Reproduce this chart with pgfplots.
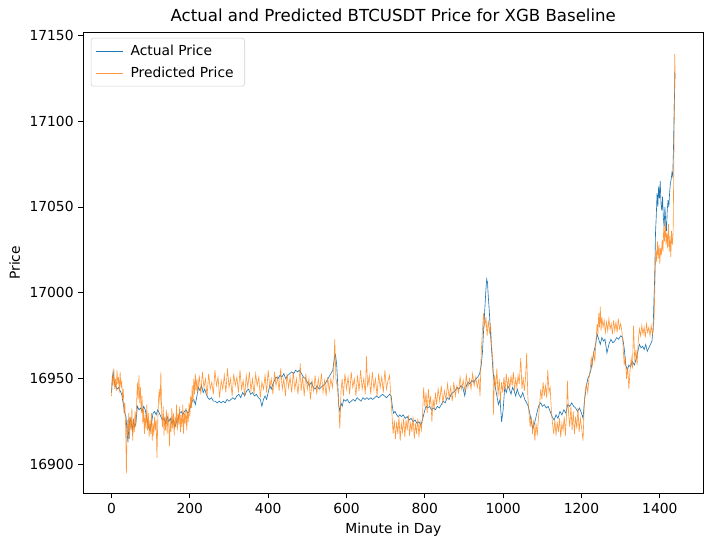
\documentclass[border=0pt]{standalone}
\usepackage{pgfplots}
\pgfplotsset{compat=1.18}
\usepackage{fontspec}
\setmainfont{DejaVu Sans}
\definecolor{mplblue}{HTML}{1F77B4}
\definecolor{mplorange}{HTML}{FF7F0E}
\begin{document}
\begin{tikzpicture}
\begin{axis}[
  scale only axis,
  width=446.4bp, height=332bp,
  xmin=-72, xmax=1511,
  ymin=16883.3, ymax=17151.6,
  xtick={0,200,400,600,800,1000,1200,1400},
  ytick={16900,16950,17000,17050,17100,17150},
  scaled ticks=false,
  /pgf/number format/.cd, 1000 sep={}, fixed, assume math mode=true,
  /pgfplots/.cd,
  tick align=outside, tick pos=left,
  major tick length=3.5bp,
  every tick/.style={black, line width=0.6pt},
  axis line style={line width=0.6pt},
  ticklabel style={font=\fontsize{10}{12}\selectfont},
  xlabel={Minute in Day}, ylabel={Price},
  label style={font=\fontsize{10}{12}\selectfont},
  title={Actual and Predicted BTCUSDT Price for XGB Baseline},
  title style={font=\fontsize{12}{14}\selectfont, yshift=-2bp},
  legend style={at={(0.012,0.988)}, anchor=north west, draw=black!18, rounded corners=2pt,
    fill=white, font=\fontsize{10}{12}\selectfont, inner xsep=3bp, inner ysep=3bp, row sep=2.5bp,
    nodes={inner xsep=5bp}},
  legend cell align=left,
  legend image code/.code={\draw[#1] (0bp,0bp) -- (20bp,0bp);},
]
\addplot[mplblue, line width=0.45pt] coordinates {
(0,16942)(2,16950)(4,16954)(7,16948)(10,16946)(14,16944)(18,16945)(22,16943)(26,16941)(28,16938)
(31,16934)(34,16930)(37,16928)(40,16918)(42,16913)(44,16921)(47,16927)(50,16925)(53,16920)(56,16926)
(59,16922)(62,16924)(66,16934)(70,16932)(74,16933)(78,16931)(82,16934)(86,16932)(90,16927)(94,16922)
(98,16920)(102,16924)(106,16930)(110,16931)(114,16929)(118,16932)(122,16930)(126,16928)(130,16926)(134,16927)
(138,16924)(142,16928)(146,16925)(150,16927)(154,16924)(158,16926)(162,16922)(166,16925)(170,16927)(174,16930)
(178,16931)(182,16929)(186,16931)(190,16932)(194,16930)(198,16931)(202,16934)(206,16937)(210,16938)(214,16935)
(218,16940)(222,16945)(226,16943)(230,16946)(234,16942)(238,16944)(242,16941)(246,16939)(250,16938)(255,16939)
(260,16937)(265,16937)(270,16936)(275,16937)(280,16936)(285,16937)(290,16936)(295,16938)(300,16937)(305,16938)
(310,16939)(315,16938)(320,16940)(325,16941)(330,16939)(335,16942)(340,16940)(345,16943)(350,16944)(355,16941)
(360,16942)(365,16940)(370,16941)(375,16939)(380,16938)(384,16934)(388,16938)(392,16940)(396,16938)(400,16942)
(404,16946)(408,16944)(412,16947)(416,16949)(420,16951)(425,16950)(430,16952)(435,16951)(440,16953)(445,16950)
(450,16952)(455,16953)(460,16954)(465,16953)(470,16955)(475,16954)(480,16955)(485,16953)(490,16951)(495,16950)
(500,16948)(505,16946)(510,16948)(515,16945)(520,16944)(525,16946)(530,16944)(535,16945)(540,16946)(545,16947)
(550,16949)(555,16951)(560,16953)(565,16955)(569,16962)(572,16964)(575,16958)(578,16945)(580,16935)(583,16931)
(586,16936)(589,16934)(593,16938)(597,16937)(602,16938)(607,16936)(612,16937)(617,16938)(622,16937)(627,16939)
(632,16938)(637,16937)(642,16939)(647,16938)(652,16939)(657,16938)(662,16939)(667,16938)(672,16939)(677,16940)
(682,16939)(687,16940)(692,16941)(697,16940)(702,16939)(706,16940)(710,16941)(714,16940)(717,16934)(720,16930)
(724,16931)(728,16929)(732,16928)(736,16929)(740,16928)(745,16929)(750,16927)(755,16928)(760,16926)(765,16927)
(770,16925)(775,16926)(780,16924)(785,16925)(790,16923)(795,16927)(799,16931)(803,16934)(807,16933)(812,16934)
(817,16932)(822,16933)(827,16932)(832,16934)(837,16933)(842,16935)(847,16937)(852,16936)(857,16939)(862,16938)
(867,16941)(872,16942)(877,16943)(882,16945)(887,16944)(892,16946)(897,16945)(902,16940)(906,16946)(910,16948)
(915,16947)(920,16949)(925,16948)(930,16950)(935,16951)(940,16953)(944,16958)(947,16965)(950,16978)(953,16990)
(956,17002)(958,17008)(960,17006)(962,16998)(965,16988)(968,16975)(971,16965)(974,16955)(977,16948)(980,16945)
(984,16940)(988,16935)(992,16938)(996,16925)(1000,16932)(1004,16945)(1008,16942)(1012,16946)(1016,16944)(1020,16941)
(1024,16945)(1028,16943)(1032,16940)(1036,16944)(1040,16941)(1045,16939)(1050,16942)(1055,16938)(1060,16936)(1064,16934)
(1068,16930)(1072,16925)(1076,16921)(1080,16924)(1084,16928)(1088,16932)(1092,16935)(1096,16936)(1100,16934)(1105,16935)
(1110,16933)(1115,16934)(1120,16931)(1125,16928)(1130,16926)(1135,16929)(1140,16927)(1145,16931)(1150,16929)(1155,16932)
(1160,16930)(1165,16935)(1170,16934)(1175,16936)(1180,16934)(1185,16933)(1190,16931)(1195,16933)(1200,16930)(1204,16927)
(1208,16938)(1212,16945)(1216,16950)(1220,16952)(1224,16955)(1228,16961)(1232,16966)(1236,16970)(1240,16976)(1244,16973)
(1248,16970)(1252,16974)(1256,16972)(1260,16973)(1265,16965)(1270,16970)(1275,16973)(1280,16971)(1285,16972)(1290,16974)
(1295,16973)(1300,16975)(1305,16974)(1309,16968)(1313,16958)(1317,16955)(1321,16958)(1325,16957)(1330,16960)(1335,16958)
(1340,16962)(1344,16966)(1348,16970)(1352,16968)(1356,16969)(1360,16967)(1364,16970)(1368,16966)(1372,16968)(1376,16970)
(1380,16972)(1383,16980)(1385,16995)(1387,17010)(1389,17035)(1391,17045)(1393,17058)(1395,17050)(1397,17062)(1399,17055)
(1401,17065)(1403,17052)(1405,17048)(1407,17056)(1409,17044)(1411,17038)(1413,17050)(1415,17042)(1417,17036)(1419,17048)
(1421,17054)(1423,17050)(1425,17058)(1427,17064)(1429,17066)(1431,17070)(1433,17068)(1435,17085)(1437,17110)(1439,17128)
};
\addlegendentry{Actual Price}
\addplot[mplorange, line width=0.45pt, opacity=0.8] coordinates {
(0,16940)(2,16952)(4,16946)(6,16956)(8,16944)(10,16950)(12,16943)(14,16955)(16,16947)(18,16951)
(20,16942)(22,16954)(24,16945)(26,16949)(28,16938)(30,16944)(32,16930)(34,16936)(36,16922)(38,16895)
(40,16926)(42,16918)(44,16930)(46,16915)(48,16928)(50,16920)(52,16933)(54,16914)(56,16926)(58,16919)
(60,16931)(62,16922)(64,16935)(66,16948)(68,16938)(70,16952)(72,16936)(74,16945)(76,16930)(78,16940)
(80,16924)(82,16933)(84,16918)(86,16929)(88,16921)(90,16935)(92,16920)(94,16930)(96,16916)(98,16926)
(100,16918)(102,16930)(104,16914)(106,16924)(108,16917)(110,16928)(112,16920)(114,16926)(116,16904)(118,16925)
(120,16938)(122,16944)(124,16935)(126,16954)(128,16930)(130,16922)(132,16934)(134,16917)(136,16928)(138,16920)
(140,16932)(142,16918)(144,16930)(146,16924)(148,16911)(150,16926)(152,16919)(154,16933)(156,16921)(158,16930)
(160,16917)(162,16928)(164,16922)(166,16935)(168,16920)(170,16930)(172,16923)(174,16934)(176,16919)(178,16929)
(180,16922)(182,16935)(184,16918)(186,16930)(188,16924)(190,16933)(192,16920)(194,16931)(196,16925)(198,16936)
(200,16928)(202,16940)(204,16933)(206,16946)(208,16936)(210,16950)(212,16941)(214,16953)(216,16943)(218,16950)
(220,16942)(224,16952)(228,16941)(232,16954)(236,16945)(240,16950)(244,16940)(248,16953)(252,16944)(256,16948)
(260,16941)(264,16955)(268,16946)(272,16951)(276,16939)(280,16949)(284,16944)(288,16952)(292,16942)(296,16956)
(300,16945)(304,16950)(308,16940)(312,16953)(316,16946)(320,16951)(324,16942)(328,16955)(332,16944)(336,16949)
(340,16940)(344,16952)(348,16945)(352,16954)(356,16943)(360,16950)(364,16941)(368,16953)(372,16946)(376,16951)
(380,16939)(384,16948)(388,16944)(392,16952)(396,16942)(400,16955)(404,16945)(408,16950)(412,16941)(416,16954)
(420,16946)(424,16951)(428,16943)(432,16956)(436,16944)(440,16950)(444,16940)(448,16953)(452,16945)(456,16951)
(460,16942)(464,16954)(468,16944)(472,16950)(476,16941)(480,16952)(482,16959)(484,16943)(488,16951)(492,16940)
(496,16953)(500,16944)(504,16950)(508,16938)(512,16949)(516,16943)(520,16952)(524,16941)(528,16950)(532,16944)
(536,16953)(540,16942)(544,16949)(548,16940)(552,16951)(556,16943)(560,16950)(564,16945)(567,16952)(570,16973)
(573,16950)(576,16946)(579,16940)(583,16921)(586,16943)(589,16950)(592,16940)(596,16953)(600,16944)(604,16951)
(608,16941)(612,16954)(616,16945)(620,16950)(624,16940)(628,16952)(632,16943)(636,16955)(640,16944)(644,16950)
(648,16941)(651,16963)(654,16945)(658,16952)(662,16941)(666,16954)(670,16944)(674,16950)(678,16940)(682,16953)
(686,16945)(690,16951)(694,16942)(698,16955)(702,16944)(706,16949)(710,16952)(713,16940)(716,16930)(719,16918)
(722,16926)(725,16915)(728,16925)(731,16918)(734,16928)(737,16914)(740,16924)(743,16919)(746,16927)(749,16916)
(752,16926)(755,16920)(758,16929)(761,16917)(764,16925)(767,16919)(770,16928)(773,16915)(776,16924)(779,16918)
(782,16927)(785,16916)(788,16925)(791,16920)(794,16928)(797,16945)(800,16934)(803,16942)(806,16930)(809,16944)
(812,16935)(815,16940)(818,16925)(821,16938)(824,16933)(827,16942)(830,16935)(834,16944)(838,16937)(842,16946)
(846,16936)(850,16943)(854,16938)(858,16947)(862,16939)(866,16945)(870,16937)(874,16948)(878,16940)(882,16946)
(886,16942)(890,16951)(894,16944)(898,16949)(902,16943)(906,16952)(910,16945)(914,16950)(918,16944)(922,16953)
(926,16946)(930,16951)(934,16945)(938,16950)(941,16940)(944,16965)(947,16978)(950,16988)(953,16980)(956,16986)
(959,16975)(962,16984)(965,16977)(968,16981)(971,16968)(974,16960)(975,16929)(978,16952)(981,16945)(984,16956)
(987,16940)(990,16950)(993,16937)(996,16948)(999,16942)(1002,16951)(1005,16943)(1008,16953)(1011,16945)(1014,16950)
(1017,16944)(1020,16952)(1023,16946)(1026,16954)(1029,16943)(1032,16950)(1035,16945)(1038,16952)(1041,16947)(1045,16962)
(1048,16944)(1051,16951)(1054,16943)(1057,16950)(1060,16965)(1063,16940)(1066,16930)(1069,16922)(1072,16928)(1075,16918)
(1078,16926)(1081,16914)(1084,16924)(1087,16917)(1090,16927)(1093,16935)(1096,16944)(1099,16938)(1102,16948)(1105,16940)
(1108,16946)(1111,16939)(1114,16955)(1117,16942)(1120,16945)(1123,16932)(1126,16924)(1129,16918)(1132,16926)(1135,16917)
(1138,16925)(1141,16919)(1144,16927)(1147,16916)(1150,16924)(1153,16920)(1156,16928)(1159,16917)(1162,16930)(1164,16949)
(1167,16930)(1170,16922)(1173,16934)(1176,16920)(1179,16931)(1182,16918)(1185,16928)(1188,16921)(1191,16933)(1194,16919)
(1197,16927)(1200,16922)(1204,16914)(1207,16935)(1210,16944)(1213,16947)(1216,16942)(1219,16950)(1222,16955)(1225,16962)
(1228,16958)(1231,16966)(1234,16960)(1237,16972)(1240,16982)(1242,16976)(1244,16988)(1246,16980)(1248,16992)(1250,16978)
(1252,16986)(1255,16980)(1258,16984)(1261,16977)(1264,16983)(1267,16978)(1270,16985)(1273,16979)(1276,16982)(1279,16976)
(1282,16984)(1285,16978)(1288,16983)(1291,16977)(1294,16985)(1297,16979)(1300,16982)(1303,16978)(1306,16970)(1309,16958)
(1312,16963)(1315,16950)(1318,16957)(1321,16944)(1324,16955)(1327,16962)(1330,16956)(1333,16981)(1336,16960)(1339,16967)
(1342,16958)(1345,16972)(1348,16979)(1351,16975)(1354,16981)(1357,16976)(1360,16980)(1363,16974)(1366,16982)(1369,16977)
(1372,16980)(1375,16975)(1378,16981)(1381,16976)(1384,16979)(1386,16990)(1388,17010)(1390,17025)(1392,17018)(1394,17030)
(1396,17020)(1398,17028)(1400,17017)(1402,17026)(1404,17022)(1406,17031)(1408,17024)(1410,17038)(1412,17030)(1414,17041)
(1416,17028)(1418,17035)(1420,17026)(1422,17040)(1424,17024)(1426,17033)(1428,17021)(1430,17036)(1432,17028)(1434,17035)
(1436,17080)(1438,17139)(1439,17128)
};
\addlegendentry{Predicted Price}
\end{axis}
\path (current axis.south west) ++(-60bp,-38.7bp) coordinate (bbA);
\path (current axis.north east) ++(7bp,23.3bp) coordinate (bbB);
\useasboundingbox (bbA) rectangle (bbB);
\end{tikzpicture}
\end{document}
